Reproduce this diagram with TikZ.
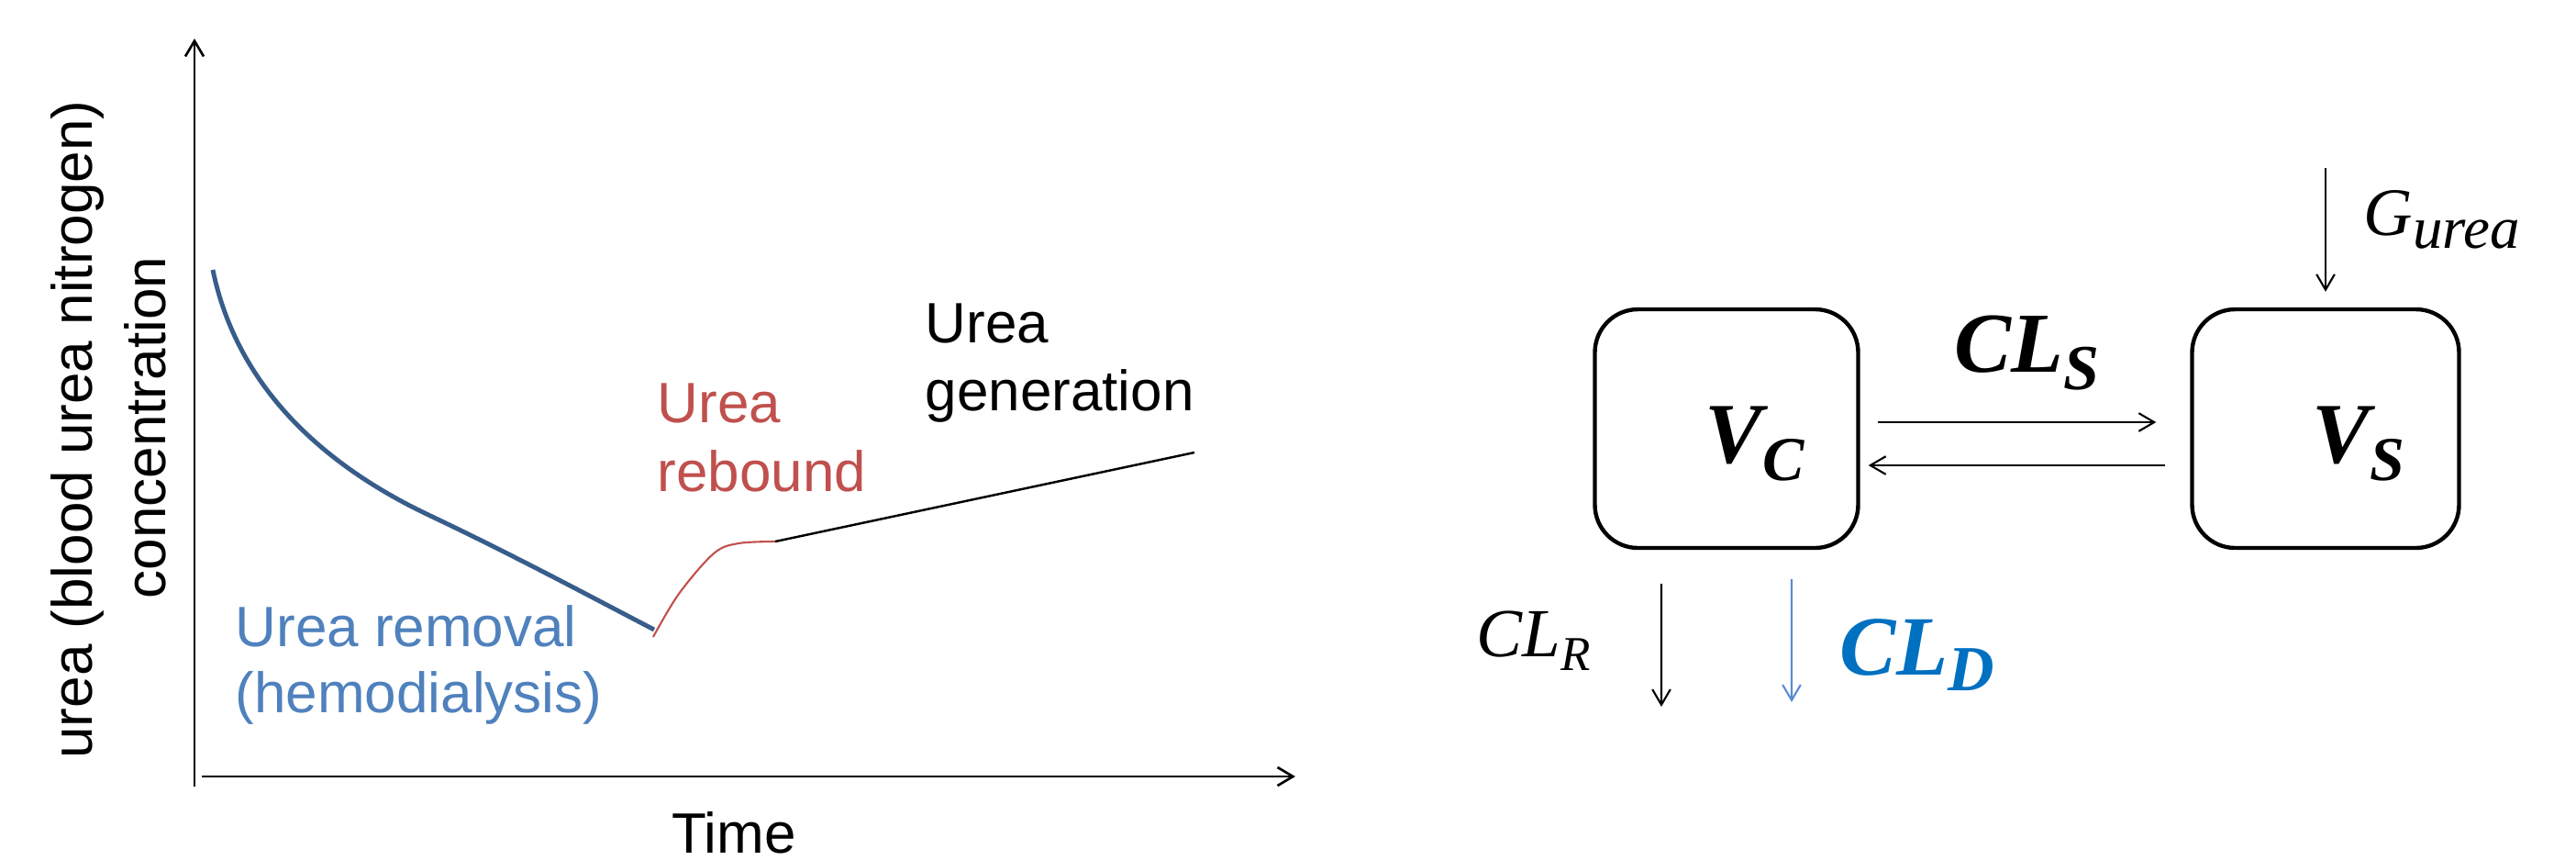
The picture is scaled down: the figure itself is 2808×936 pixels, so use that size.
\documentclass[tikz,border=0pt]{standalone}
\usepackage{fontspec}
\setmainfont{Liberation Sans}
\newfontfamily\mathserif{Liberation Serif}
\usetikzlibrary{arrows.meta,calc}

\definecolor{curveblue}{HTML}{385D8A}
\definecolor{labelblue}{HTML}{4F81BD}
\definecolor{rebred}{HTML}{C0504D}
\definecolor{dialblue}{HTML}{0070C0}
\definecolor{dialarrow}{HTML}{5B8BD0}

% one drawing unit = 0.1 mm
\newdimen\pxu \pxu=0.1mm
\newcommand\pxsize[1]{\fontsize{\fpeval{#1*0.28453}pt}{\fpeval{#1*0.34}pt}\selectfont}
% symbol with a lowered subscript: {symbol}{size}{subscript}{size}{drop}
\newcommand\msym[5]{{\pxsize{#2}#1}\raisebox{-#5\pxu}{\pxsize{#4}#3}}

\begin{document}
\begin{tikzpicture}[x=0.1mm,y=-0.1mm,
  axis/.style={line width=0.75pt,-{Straight Barb[length=4.8pt,width=5.7pt]}},
  flow/.style={line width=0.6pt,-{Straight Barb[length=4.8pt,width=5.6pt]}},
  compartment/.style={draw,line width=1.25pt,rounded corners=4.7mm,
    minimum width=28.7mm,minimum height=26mm,inner sep=0pt},
  txt/.style={inner sep=0pt,anchor=base west,font=\pxsize{62}},
  mathlab/.style={inner sep=0pt,anchor=base west,font=\mathserif\itshape},
]
\useasboundingbox (0,0) rectangle (2808,936);

% ---------- concentration curve ----------
\coordinate (origin) at (212,857);
\coordinate (ytop) at (212,42);
\coordinate (xstart) at (220,846);
\coordinate (xend) at (1412,846);
\draw[axis] (origin) -- (ytop);
\draw[axis] (xstart) -- (xend);

% removal phase: fast drop, then a slow near-linear decline
\coordinate (c0) at (232,294);
\coordinate (knee) at (465,560);
\coordinate (nadir) at (713,686);
\draw[curveblue,line width=1.4pt]
  (c0) .. controls (258,420) and (350,505) .. (knee)
       .. controls (560,605) and (640,648) .. (nadir);

% rebound after the session
\draw[rebred,line width=0.6pt] plot[smooth,tension=0.55] coordinates
  {(712,694) (740,647) (778,603) (805,592) (845,590)};
\coordinate (plateau) at (845,590);
\coordinate (genend) at (1302,493);
\draw[line width=0.7pt] (plateau) -- (genend);

\node[txt,text=labelblue] (remove1) at (256,704) {Urea removal};
\node[txt,text=labelblue] (remove2) at (256,776) {(hemodialysis)};
\node[txt,text=rebred] (rebound1) at (716,460) {Urea};
\node[txt,text=rebred] (rebound2) at (716,535) {rebound};
\node[txt] (gen1) at (1008,373) {Urea};
\node[txt] (gen2) at (1008,447) {generation};
\node[txt,anchor=base,text depth=0pt] (timelab) at (800,929) {Time};
\node[txt,anchor=base,rotate=90] (ylab1) at (100,468) {urea (blood urea nitrogen)};
\node[txt,anchor=base,rotate=90] (ylab2) at (180,466) {concentration};

% ---------- two-compartment model ----------
\node[compartment] (vc) at (1882,467) {};
\node[compartment,minimum width=29.1mm] (vs) at (2535,467) {};

\node[mathlab] (vclab) at (1858,504) {\bfseries\msym{V}{94}{C}{68}{19}};
\node[mathlab] (vslab) at (2520,504) {\bfseries\msym{V}{94}{S}{68}{19}};
\node[mathlab] (clslab) at (2130,405) {\bfseries\msym{CL}{93}{S}{70}{19}};
\node[mathlab] (clrlab) at (1609,715) {\msym{CL}{75}{R}{53}{15}};
\node[mathlab,text=dialblue] (cldlab) at (2005,735) {\bfseries\msym{CL}{92}{D}{70}{17}};
\node[mathlab] (glab) at (2576,256) {\msym{G}{74}{urea}{65}{14}};

\draw[flow] ([xshift=1.9mm,yshift=0.7mm]vc.east) -- ([xshift=-3.7mm,yshift=0.7mm]vs.west);
\draw[flow] ([xshift=-2.7mm,yshift=-4mm]vs.west) -- ([xshift=0.9mm,yshift=-4mm]vc.east);

\coordinate (gsrc) at (2535,183);
\draw[flow] (gsrc) -- ([yshift=1.7mm]vs.north);

\coordinate (rsink) at (1811,770);
\coordinate (dsink) at (1953,765);
\draw[flow] ([xshift=-7.1mm,yshift=-3.7mm]vc.south) -- (rsink);
\draw[flow,dialarrow] ([xshift=7.1mm,yshift=-3.2mm]vc.south) -- (dsink);
\end{tikzpicture}
\end{document}
